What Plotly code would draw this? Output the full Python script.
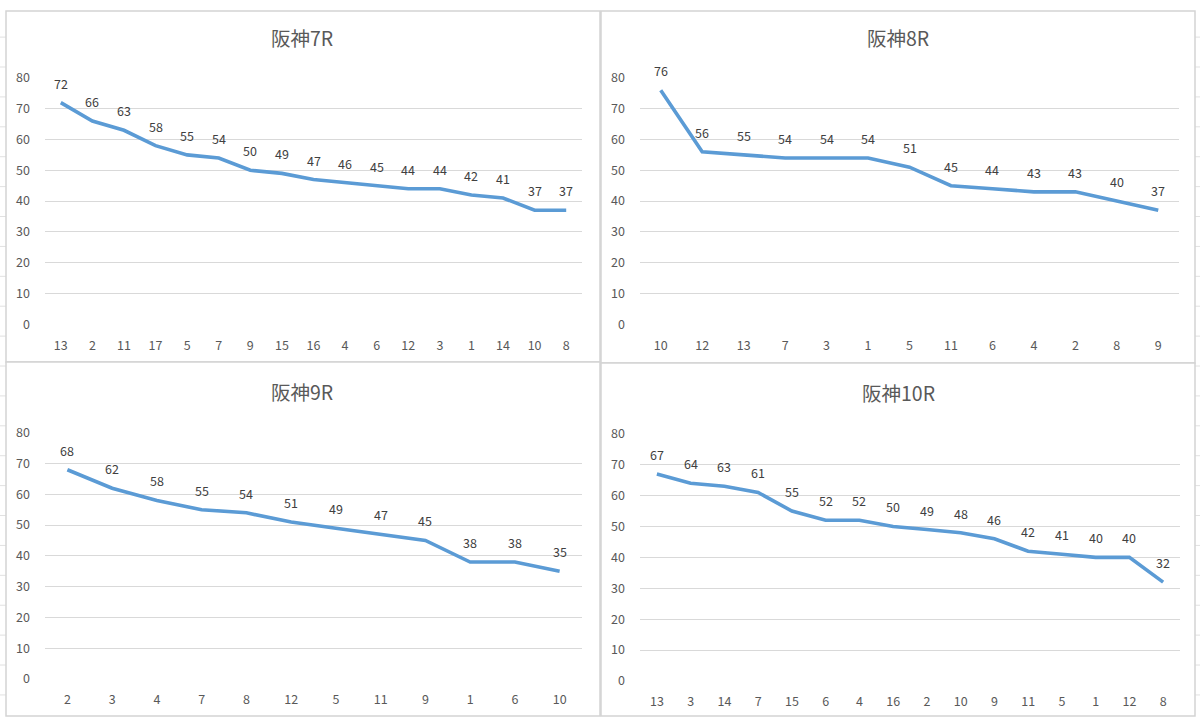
import plotly.graph_objects as go

# ---- data ----
titles = ["阪神7R", "阪神8R", "阪神9R", "阪神10R"]

cats_7r = ["13", "2", "11", "17", "5", "7", "9", "15", "16", "4", "6", "12", "3", "1", "14", "10", "8"]
vals_7r = [72, 66, 63, 58, 55, 54, 50, 49, 47, 46, 45, 44, 44, 42, 41, 37, 37]

cats_8r = ["10", "12", "13", "7", "3", "1", "5", "11", "6", "4", "2", "8", "9"]
vals_8r = [76, 56, 55, 54, 54, 54, 51, 45, 44, 43, 43, 40, 37]

cats_9r = ["2", "3", "4", "7", "8", "12", "5", "11", "9", "1", "6", "10"]
vals_9r = [68, 62, 58, 55, 54, 51, 49, 47, 45, 38, 38, 35]

cats_10r = ["13", "3", "14", "7", "15", "6", "4", "16", "2", "10", "9", "11", "5", "1", "12", "8"]
vals_10r = [67, 64, 63, 61, 55, 52, 52, 50, 49, 48, 46, 42, 41, 40, 40, 32]

y_ticks = [0, 10, 20, 30, 40, 50, 60, 70, 80]

# ---- layout geometry (pixels) ----
W, H = 1200, 724
# the captured page maps figure y to screen y roughly as 8.8 + 0.977*y
def px(x): return x / W
def py(y):
    s = (y - 8.8) / 0.977
    s = min(max(s, 0), H)
    return 1 - s / H

series = [(cats_7r, vals_7r), (cats_8r, vals_8r), (cats_9r, vals_9r), (cats_10r, vals_10r)]
# plot areas: (x0, x1, y_top(80), y_bottom(0))
areas = [(45, 582, 76, 323), (640, 1179, 76, 323), (45, 582, 432, 679), (640, 1180, 433, 681)]
boxes = [(6, 4, 600, 361), (601, 4, 1195, 362), (6, 361, 600, 718), (601, 362, 1195, 719)]
title_pos = [(302, 35), (898, 35), (302, 391), (898, 392)]

LINE = "#5B9BD5"
GRID = "#D9D9D9"
TXT = "#595959"
FONT = "Noto Sans CJK JP"

fig = go.Figure()
shapes = []
annotations = []

# Excel sheet cell grid in the background
for k in range(15):
    x = 83 + 86.2 * k
    if x < W:
        shapes.append(dict(type="line", xref="paper", yref="paper", x0=px(x), x1=px(x), y0=0, y1=1,
                           line=dict(color="#E1E1E1", width=1), layer="below"))
for k in range(25):
    y = 5 + 30 * k
    if 9 < y < 716:
        shapes.append(dict(type="line", xref="paper", yref="paper", x0=0, x1=1, y0=py(y), y1=py(y),
                           line=dict(color="#E1E1E1", width=1), layer="below"))
# chart boxes
for (x0, y0, x1, y1) in boxes:
    shapes.append(dict(type="rect", xref="paper", yref="paper", x0=px(x0), x1=px(x1), y0=py(y1), y1=py(y0),
                       fillcolor="white", line=dict(color="#D4D4D4", width=1.5), layer="below"))

for i, ((cats, vals), (ax0, ax1, yt, yb), title, (tx, ty)) in enumerate(zip(series, areas, titles, title_pos)):
    n = i + 1
    xa = "x" if n == 1 else f"x{n}"
    ya = "y" if n == 1 else f"y{n}"
    fig.add_trace(go.Scatter(x=cats, y=vals, mode="lines", xaxis=xa, yaxis=ya,
                             line=dict(color=LINE, width=3.6), hoverinfo="x+y", showlegend=False))
    for j, v in enumerate(vals):
        annotations.append(dict(x=j, y=v, xref=xa, yref=ya, text=str(v), showarrow=False,
                                yanchor="middle", xanchor="center", yshift=19.5,
                                font=dict(family=FONT, size=12.5, color="#404040")))
    annotations.append(dict(x=px(tx), y=py(ty), xref="paper", yref="paper", text=title, showarrow=False,
                            xanchor="center", yanchor="middle",
                            font=dict(family=FONT, size=19.5, color=TXT)))
    xkey = "xaxis" if n == 1 else f"xaxis{n}"
    ykey = "yaxis" if n == 1 else f"yaxis{n}"
    fig.update_layout({
        xkey: dict(domain=[px(ax0), px(ax1)], anchor=ya, type="category",
                   range=[-0.5, len(cats) - 0.5], showgrid=False, zeroline=False, showline=False,
                   ticks="", tickfont=dict(family=FONT, size=12.5, color=TXT), ticklabelstandoff=12,
                   fixedrange=True),
        ykey: dict(domain=[py(yb), py(yt)], anchor=xa, range=[0, 80], tickvals=y_ticks,
                   showgrid=True, gridcolor=GRID, gridwidth=1, zeroline=False, showline=False,
                   ticks="", tickfont=dict(family=FONT, size=12.5, color=TXT), ticklabelstandoff=14,
                   fixedrange=True),
    })

fig.update_layout(width=W, height=H, margin=dict(l=0, r=0, t=0, b=0),
                  paper_bgcolor="white", plot_bgcolor="rgba(0,0,0,0)",
                  shapes=shapes, annotations=annotations, showlegend=False)

fig.write_html("out.html")
